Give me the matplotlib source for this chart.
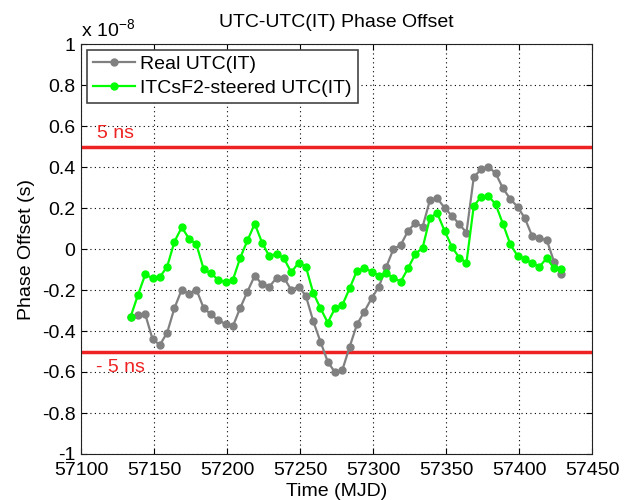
import numpy as np
import matplotlib
matplotlib.use('Agg')
import matplotlib.pyplot as plt
from matplotlib.ticker import FuncFormatter

plt.rcParams['font.family'] = ['Liberation Sans', 'DejaVu Sans']
plt.rcParams['axes.unicode_minus'] = False
plt.rcParams['mathtext.fontset'] = 'custom'
plt.rcParams['mathtext.rm'] = 'Liberation Sans'

# 데이터 (단위: 1e-8 s)
mjd = [57134, 57139, 57144, 57149, 57154, 57159, 57164, 57169, 57174, 57179,
       57184, 57189, 57194, 57199, 57204, 57209, 57214, 57219, 57224, 57229,
       57234, 57239, 57244, 57249, 57254, 57259, 57264, 57269, 57274, 57279,
       57284, 57289, 57294, 57299, 57304, 57309, 57314, 57319, 57324, 57329,
       57334, 57339, 57344, 57349, 57354, 57359, 57364, 57369, 57374, 57379,
       57384, 57389, 57394, 57399, 57404, 57409, 57414, 57419, 57424, 57429]
real_utc = [-0.33, -0.322, -0.319, -0.44, -0.468, -0.408, -0.288, -0.198, -0.22, -0.198,
            -0.288, -0.319, -0.348, -0.366, -0.377, -0.288, -0.208, -0.13, -0.172, -0.184,
            -0.14, -0.14, -0.2, -0.184, -0.228, -0.351, -0.452, -0.55, -0.602, -0.59,
            -0.477, -0.368, -0.306, -0.241, -0.184, -0.089, 0.0, 0.02, 0.088, 0.128,
            0.109, 0.239, 0.247, 0.201, 0.162, 0.122, 0.08, 0.35, 0.389, 0.402,
            0.369, 0.296, 0.244, 0.206, 0.15, 0.063, 0.052, 0.044, -0.062, -0.122]
steered_utc = [-0.33, -0.224, -0.124, -0.143, -0.137, -0.086, 0.036, 0.106, 0.05, 0.023,
               -0.098, -0.119, -0.15, -0.161, -0.151, -0.044, 0.042, 0.123, 0.031, -0.036,
               -0.023, -0.046, -0.114, -0.067, -0.086, -0.213, -0.289, -0.359, -0.289, -0.273,
               -0.192, -0.106, -0.094, -0.11, -0.13, -0.119, -0.14, -0.159, -0.094, -0.024,
               0.006, 0.153, 0.174, 0.089, 0.011, -0.042, -0.067, 0.21, 0.254, 0.259,
               0.218, 0.122, 0.024, -0.034, -0.049, -0.07, -0.086, -0.045, -0.094, -0.098]
limit = 0.5

fig = plt.figure(figsize=(6.35, 5.0), dpi=100)
ax = fig.add_axes([0.1276, 0.092, 0.8047, 0.82])

ax.plot(mjd, real_utc, color='#808080', marker='o', markersize=5, linewidth=1.6,
        label='Real UTC(IT)', zorder=3)
ax.plot(mjd, steered_utc, color='#00ff00', marker='o', markersize=5, linewidth=1.6,
        label='ITCsF2-steered UTC(IT)', zorder=4)
ax.axhline(limit, color='#ee2222', linewidth=2.5, zorder=2)
ax.axhline(-limit, color='#ee2222', linewidth=2.5, zorder=2)
ax.text(57111, 0.52, '5 ns', color='#ee2222', fontsize=14, ha='left', va='bottom')
ax.text(57110, -0.535, '- 5 ns', color='#ee2222', fontsize=14, ha='left', va='top')

ax.set_xlim(57100, 57450)
ax.set_ylim(-1, 1)
ax.set_xticks(np.arange(57100, 57451, 50))
ax.set_yticks(np.arange(-1, 1.01, 0.2))
ax.yaxis.set_major_formatter(FuncFormatter(lambda v, p: '%g' % (round(v, 2) + 0.0)))
ax.tick_params(direction='in', top=True, right=True, labelsize=14, length=4, pad=4)
ax.tick_params(axis='x', pad=6)
ax.grid(True, color='black', linestyle=(0, (1, 3)), linewidth=0.8)
for s in ax.spines.values():
    s.set_color('#222222')

ax.set_title('UTC-UTC(IT) Phase Offset', fontsize=14, pad=12)
ax.set_xlabel('Time (MJD)', fontsize=14, labelpad=3)
ax.set_ylabel('Phase Offset (s)', fontsize=14, labelpad=5)
ax.text(0.0, 1.008, r'x 10$^{\mathregular{-8}}$', transform=ax.transAxes, fontsize=14,
        ha='left', va='bottom')

leg = ax.legend(loc='upper left', fontsize=14, fancybox=False, framealpha=1,
                edgecolor='#444444', borderaxespad=0.3, handlelength=2.2,
                handletextpad=0.25, borderpad=0.3, labelspacing=0.3)
leg.get_frame().set_linewidth(1.2)

fig.savefig('out.png', dpi=100)
